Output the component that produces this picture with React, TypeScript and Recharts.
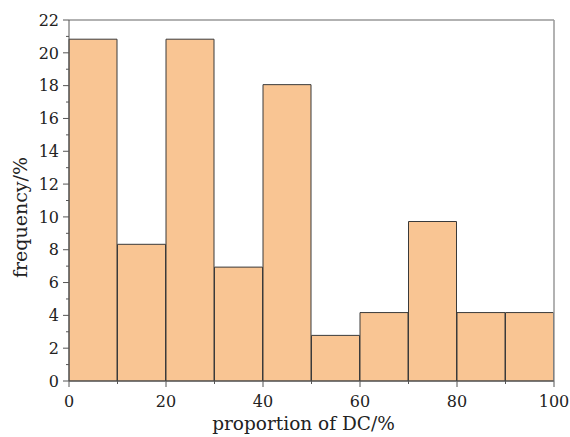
import React from "react";
import { BarChart, Bar, XAxis, YAxis, ReferenceLine } from "recharts";

// Histogram of the proportion of DC, in 10% bins (bars sit at the bin centres)
const binCentres = [5, 15, 25, 35, 45, 55, 65, 75, 85, 95];
const frequency = [20.83, 8.33, 20.83, 6.94, 18.06, 2.78, 4.17, 9.72, 4.17, 4.17];
const xTicks = [0, 10, 20, 30, 40, 50, 60, 70, 80, 90, 100];
const yTicks = [0, 1, 2, 3, 4, 5, 6, 7, 8, 9, 10, 11, 12, 13, 14, 15, 16, 17, 18, 19, 20, 21, 22];

const data = binCentres.map((mid, i) => ({ mid, value: frequency[i] }));

const FONT = "DejaVu Serif";
const AXIS = "#555";
const TEXT = "#222";

const YTick = (props: any) => {
  const { x, y, payload } = props;
  const v = payload.value as number;
  const major = v % 2 === 0;
  return (
    <g>
      <line x1={x + (major ? 1 : 4)} x2={x + 7} y1={y} y2={y} stroke={AXIS} strokeWidth={1} />
      {major && (
        <text x={x - 3} y={y} dy="0.36em" textAnchor="end" fontFamily={FONT} fontSize={16} fill={TEXT}>
          {v}
        </text>
      )}
    </g>
  );
};

const XTick = (props: any) => {
  const { x, y, payload } = props;
  const v = payload.value as number;
  const major = v % 20 === 0;
  return (
    <g>
      <line x1={x} x2={x} y1={y - 7} y2={y - (major ? 1 : 4)} stroke={AXIS} strokeWidth={1} />
      {major && (
        <text x={x} y={y + 19} textAnchor="middle" fontFamily={FONT} fontSize={16} fill={TEXT}>
          {v}
        </text>
      )}
    </g>
  );
};

const XTitle = (props: any) => {
  const { viewBox } = props;
  const cx = viewBox.x + viewBox.width / 2 - 8;
  return (
    <text x={cx} y={430} textAnchor="middle" fontFamily={FONT} fontSize={18.5} fill={TEXT}>
      proportion of DC/%
    </text>
  );
};

const YTitle = (props: any) => {
  const { viewBox } = props;
  const cy = viewBox.y + viewBox.height / 2 + 17;
  return (
    <text
      x={27}
      y={cy}
      transform={`rotate(-90, 27, ${cy})`}
      textAnchor="middle"
      fontFamily={FONT}
      fontSize={19}
      fill={TEXT}
    >
      frequency/%
    </text>
  );
};

export default function App() {
  return (
    <div style={{ position: "absolute", left: 0, top: 0, background: "#fff" }}>
      <BarChart
        width={570}
        height={437}
        data={data}
        margin={{ top: 20, right: 16, bottom: 26, left: 9 }}
        barCategoryGap={0}
        barGap={0}
      >
        <XAxis
          dataKey="mid"
          type="number"
          domain={[0, 100]}
          ticks={xTicks}
          interval={0}
          height={30}
          tickLine={false}
          tickSize={5}
          tickMargin={2}
          tick={<XTick />}
          stroke={AXIS}
          label={<XTitle />}
        />
        <YAxis
          type="number"
          domain={[0, 22]}
          ticks={yTicks}
          interval={0}
          width={60}
          tickLine={false}
          tickSize={5}
          tickMargin={2}
          tick={<YTick />}
          stroke={AXIS}
          label={<YTitle />}
        />
        <ReferenceLine y={22} stroke="#999" strokeWidth={1.5} />
        <ReferenceLine x={100} stroke="#999" strokeWidth={1.5} />
        <Bar dataKey="value" fill="#F9C593" stroke="#3a3a3a" strokeWidth={1} isAnimationActive={false} />
      </BarChart>
    </div>
  );
}
